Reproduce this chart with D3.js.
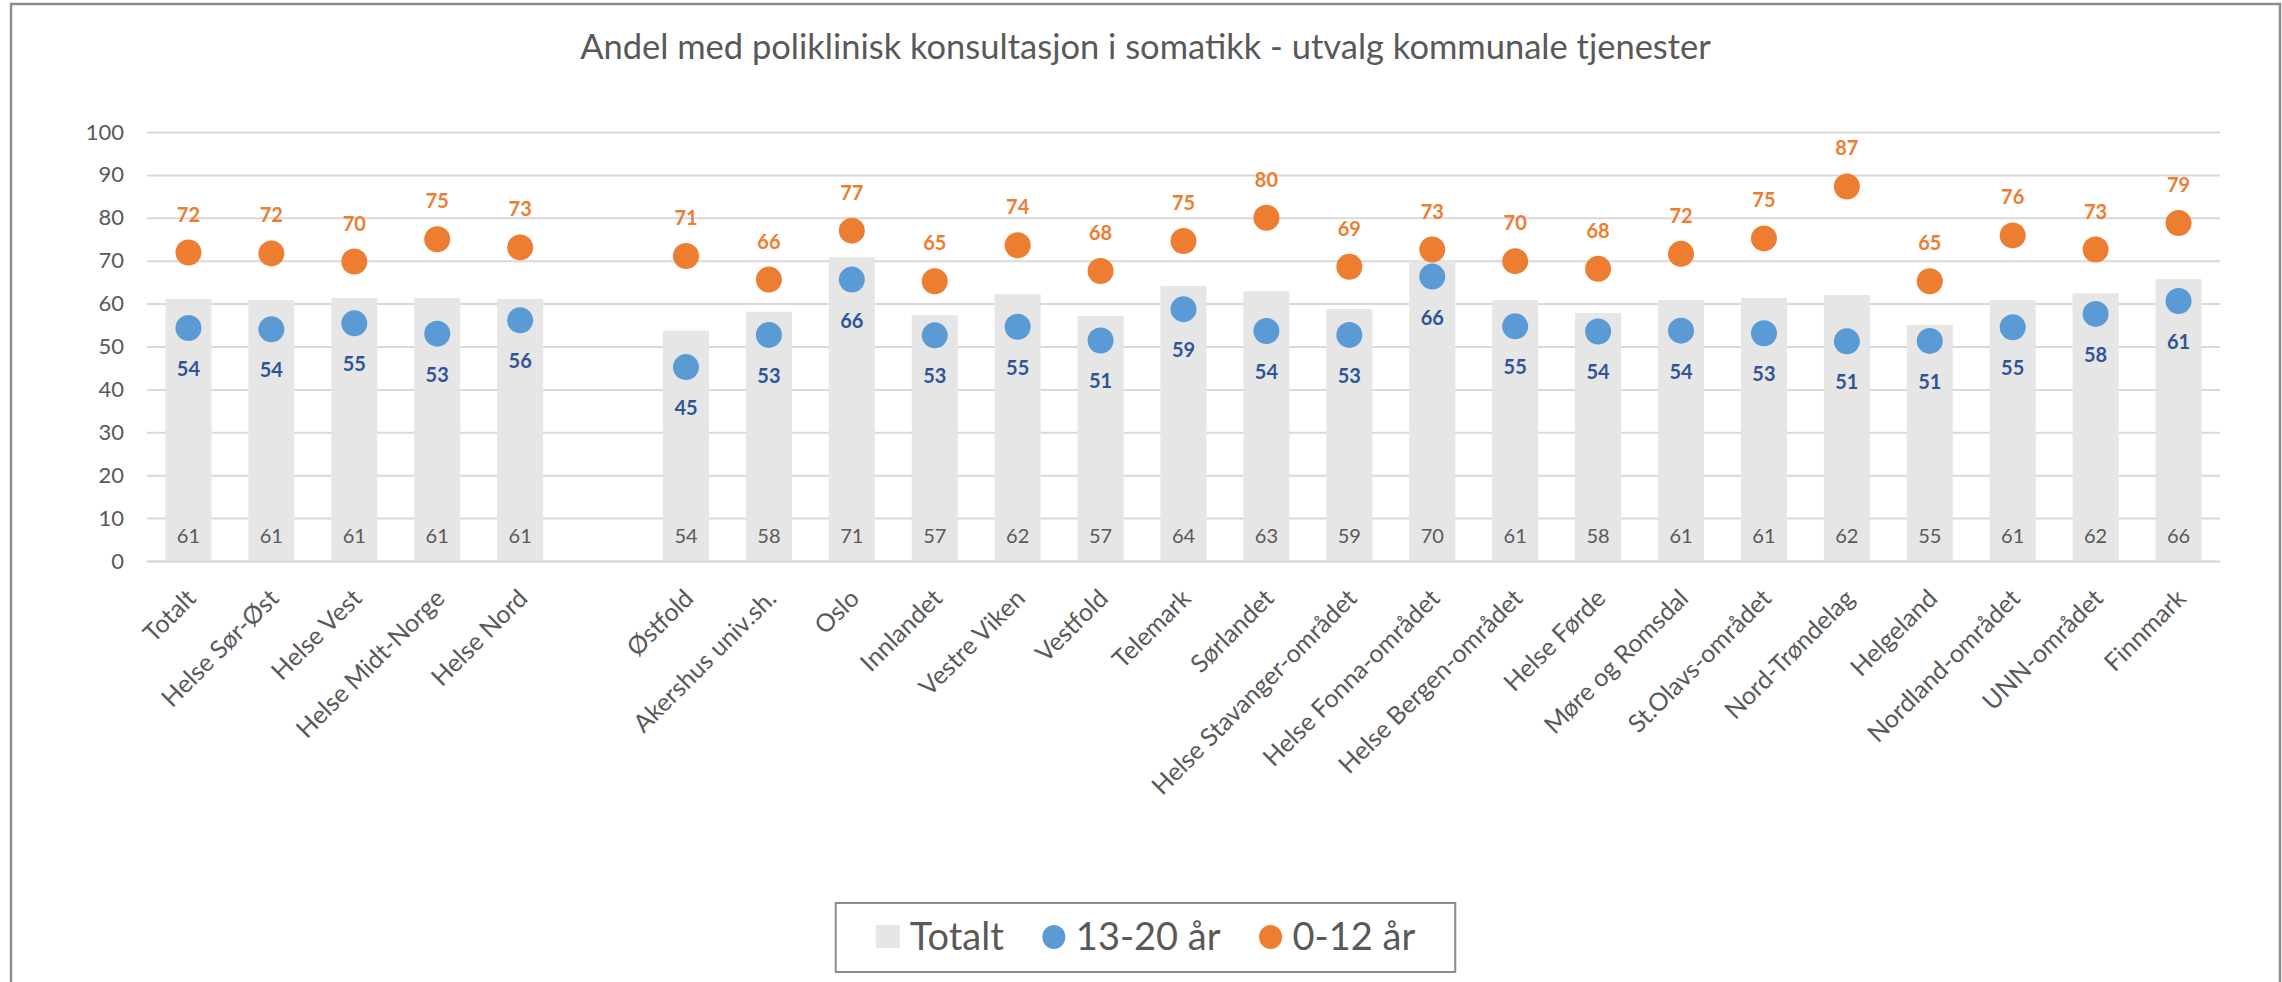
<!DOCTYPE html>
<html lang="no">
<head>
<meta charset="UTF-8">
<title>Andel med poliklinisk konsultasjon i somatikk</title>
<script src="https://d3js.org/d3.v7.min.js"></script>
<style>
  body { margin: 0; background: #fff; }
  text { font-family: Lato, "Open Sans", sans-serif; }
</style>
</head>
<body>
<script>
const title = "Andel med poliklinisk konsultasjon i somatikk - utvalg kommunale tjenester";

// "" = the empty slot between the health regions and the hospital areas
const categories = [
  "Totalt", "Helse Sør-Øst", "Helse Vest", "Helse Midt-Norge", "Helse Nord", "",
  "Østfold", "Akershus univ.sh.", "Oslo", "Innlandet", "Vestre Viken", "Vestfold",
  "Telemark", "Sørlandet", "Helse Stavanger-området", "Helse Fonna-området",
  "Helse Bergen-området", "Helse Førde", "Møre og Romsdal", "St.Olavs-området",
  "Nord-Trøndelag", "Helgeland", "Nordland-området", "UNN-området", "Finnmark"
];
const totalt = [61.1, 60.8, 61.3, 61.3, 61.1, null,
  53.7, 58.1, 70.8, 57.3, 62.2, 57.1, 64.1, 62.9, 58.7, 69.9,
  60.8, 57.8, 60.8, 61.3, 62.0, 55.0, 60.8, 62.4, 65.7];
const age13to20 = [54.3, 54.0, 55.4, 53.0, 56.1, null,
  45.2, 52.7, 65.6, 52.6, 54.6, 51.4, 58.7, 53.6, 52.7, 66.3,
  54.7, 53.5, 53.7, 53.1, 51.2, 51.3, 54.5, 57.6, 60.6];
const age0to12 = [71.9, 71.7, 69.8, 75.0, 73.1, null,
  71.1, 65.6, 77.0, 65.2, 73.6, 67.6, 74.6, 80.0, 68.6, 72.6,
  69.9, 68.1, 71.6, 75.2, 87.3, 65.2, 75.9, 72.6, 78.8];
const yTicks = [0, 10, 20, 30, 40, 50, 60, 70, 80, 90, 100];
const seriesNames = ["Totalt", "13-20 år", "0-12 år"];

const width = 2282, height = 982;
const plot = {left: 147, right: 2220, top: 132, bottom: 561};
const grey = "#595959";
const barColor = "#e6e6e6";
const blue = "#5b9bd5", orange = "#ed7d31", darkBlue = "#2f5597";

const svg = d3.select("body").append("svg")
    .attr("width", width).attr("height", height);

svg.append("rect")
    .attr("x", 11).attr("y", 4).attr("width", 2269).attr("height", 1000)
    .attr("fill", "#fff").attr("stroke", "#8c8c8c").attr("stroke-width", 2.5);

svg.append("text")
    .text(title)
    .attr("x", (11 + 2280) / 2).attr("y", 59)
    .attr("text-anchor", "middle")
    .attr("font-size", 34.5)
    .attr("fill", grey);

const x = d3.scaleBand()
    .domain(d3.range(categories.length))
    .range([plot.left, plot.right]);

const y = d3.scaleLinear()
    .domain([0, 100])
    .range([plot.bottom, plot.top]);

// gridlines + y labels
const gy = svg.append("g")
    .attr("transform", `translate(${plot.left},0)`)
    .call(d3.axisLeft(y).tickValues(yTicks).tickSize(-(plot.right - plot.left)).tickPadding(23));
gy.select(".domain").remove();
gy.selectAll(".tick line").attr("stroke", "#d9d9d9").attr("stroke-width", 2);
gy.selectAll(".tick text").attr("fill", grey).attr("font-size", 22);

const rows = categories.map((c, i) => ({
  i: i, name: c, total: totalt[i], teen: age13to20[i], child: age0to12[i]
})).filter(d => d.total != null);

const cx = d => x(d.i) + x.bandwidth() / 2;
const barW = x.bandwidth() / 1.8;
const fmt = d3.format(".0f");

// bars
svg.append("g").selectAll("rect")
    .data(rows)
    .join("rect")
    .attr("x", d => cx(d) - barW / 2)
    .attr("y", d => y(d.total))
    .attr("width", barW)
    .attr("height", d => y(0) - y(d.total))
    .attr("fill", barColor);

// x axis
const gx = svg.append("g")
    .attr("transform", `translate(0,${plot.bottom})`)
    .call(d3.axisBottom(x).tickSize(0).tickSizeOuter(0).tickFormat(i => categories[i]));
gx.select(".domain").attr("stroke", "#d9d9d9").attr("stroke-width", 2);
gx.selectAll(".tick text")
    .attr("x", 0).attr("y", 0).attr("dy", 0)
    .attr("text-anchor", "end")
    .attr("transform", "translate(9,39) rotate(-45)")
    .attr("font-size", 25)
    .attr("fill", grey);

// bar labels at base
svg.append("g").selectAll("text")
    .data(rows)
    .join("text")
    .text(d => fmt(d.total))
    .attr("x", cx)
    .attr("y", y(0) - 18)
    .attr("text-anchor", "middle")
    .attr("font-size", 20)
    .attr("fill", grey);

// 13-20 år
svg.append("g").selectAll("circle")
    .data(rows)
    .join("circle")
    .attr("cx", cx)
    .attr("cy", d => y(d.teen))
    .attr("r", 13)
    .attr("fill", blue);

svg.append("g").selectAll("text")
    .data(rows)
    .join("text")
    .text(d => fmt(d.teen))
    .attr("x", cx)
    .attr("y", d => y(d.teen) + 48)
    .attr("text-anchor", "middle")
    .attr("font-size", 20)
    .attr("font-weight", "bold")
    .attr("fill", darkBlue);

// 0-12 år
svg.append("g").selectAll("circle")
    .data(rows)
    .join("circle")
    .attr("cx", cx)
    .attr("cy", d => y(d.child))
    .attr("r", 13)
    .attr("fill", orange);

svg.append("g").selectAll("text")
    .data(rows)
    .join("text")
    .text(d => fmt(d.child))
    .attr("x", cx)
    .attr("y", d => y(d.child) - 31)
    .attr("text-anchor", "middle")
    .attr("font-size", 20)
    .attr("font-weight", "bold")
    .attr("fill", orange);

// legend
const legend = svg.append("g");
const box = legend.append("rect")
    .attr("fill", "#fff").attr("stroke", "#8c8c8c").attr("stroke-width", 2);
const colors = [barColor, blue, orange];
let lx = 0;
seriesNames.forEach((name, k) => {
  if (k === 0) {
    legend.append("rect").attr("x", lx).attr("y", -12).attr("width", 24).attr("height", 23)
        .attr("fill", colors[k]);
  } else {
    legend.append("ellipse").attr("cx", lx + 12).attr("cy", 0).attr("rx", 11.5).attr("ry", 12)
        .attr("fill", colors[k]);
  }
  const t = legend.append("text")
      .text(name)
      .attr("x", lx + 34).attr("y", 13)
      .attr("font-size", 38)
      .attr("fill", grey);
  lx += 34 + t.node().getComputedTextLength() + 38;
});
const innerW = lx - 38;
const legendLeft = (11 + 2280) / 2 - (innerW + 80) / 2;
box.attr("x", -40).attr("y", -34).attr("width", innerW + 80).attr("height", 69);
legend.attr("transform", `translate(${legendLeft + 40},937)`);
</script>
</body>
</html>
